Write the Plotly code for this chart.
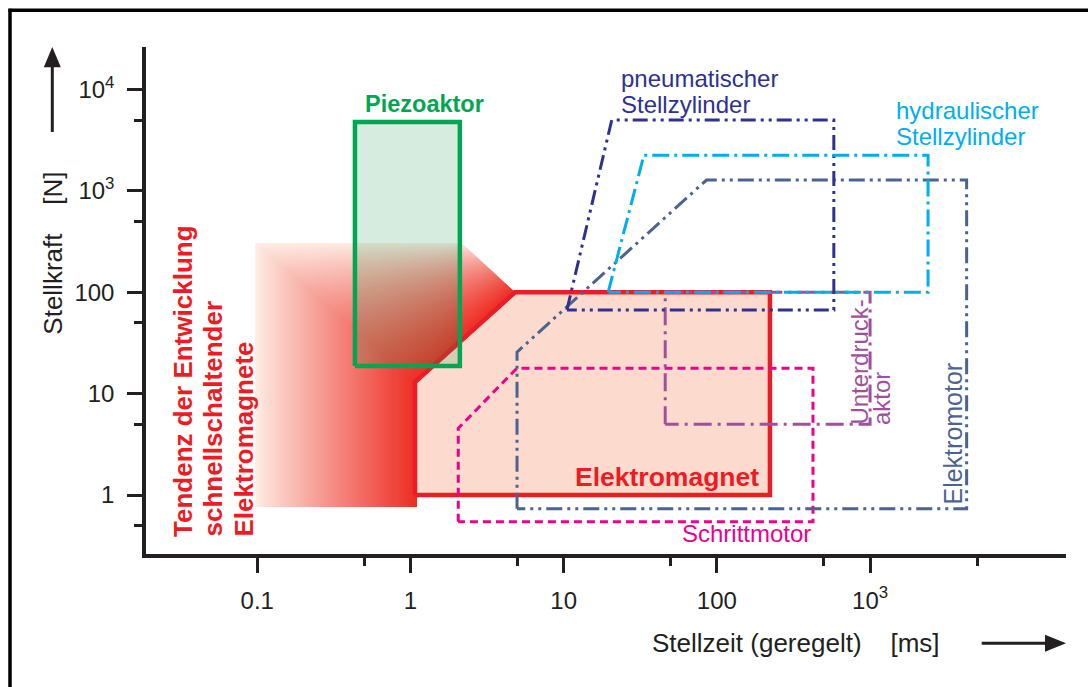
import numpy as np
import plotly.graph_objects as go

# ---- actuator regions: Stellzeit [ms] vs. Stellkraft [N] ----
elektromagnet_t = [1.07, 1.07, 4.8, 222, 222]
elektromagnet_f = [1, 13, 100, 100, 1]

piezo_t = [0.434, 0.434, 2.1, 2.1]
piezo_f = [18.7, 4800, 4800, 18.7]

pneumatik_t = [10.5, 20.6, 580, 580]
pneumatik_f = [67, 5000, 5000, 67]

hydraulik_t = [19.5, 33.4, 2390, 2390]
hydraulik_f = [100, 2250, 2250, 100]

elektromotor_t = [4.96, 4.96, 85.5, 4270, 4270]
elektromotor_f = [0.73, 25.7, 1280, 1280, 0.73]

unterdruck_t = [46, 46, 1000, 1000]
unterdruck_f = [5, 100, 100, 5]

schrittmotor_t = [2.05, 2.05, 4.94, 424, 424]
schrittmotor_f = [0.545, 4.55, 17.8, 17.8, 0.545]

# development trend of fast-switching solenoids: blend from the outer path to the solenoid edge
trend_outer_t = [0.1, 0.1, 2.17]
trend_outer_f = [0.76, 292, 292]
trend_inner_t = [1.07, 1.07, 4.8]
trend_inner_f = [0.76, 13, 100]

# ---- axis ticks ----
x_tickvals = [0.1, 1, 10, 100, 1000]
x_ticktext = ["0.1", "1", "10", "100", "10<sup>3</sup>"]
x_minor = [0.5, 5, 50, 500, 5000]
y_tickvals = [1, 10, 100, 1000, 10000]
y_ticktext = ["1", "10", "100", "10<sup>3</sup>", "10<sup>4</sup>"]
y_minor = [0.5, 5, 50, 500, 5000]

FONT = "Liberation Sans, Arial, Helvetica, sans-serif"
INK = "#231F20"
RED = "#ED1C24"
GREEN = "#00A651"
NAVY = "#2E3192"
CYAN = "#00AEEF"
SLATE = "#4A6391"
PURPLE = "#A0509A"
MAGENTA = "#EC008C"

W_FIG, H_FIG = 1088, 687
L, R, T, B = 146, 1066, 46.7, 554


def px(x):
    return (x - L) / (R - L)


def py(y):
    return (B - y) / (B - T)


def closed(a):
    return list(a) + [a[0]]


fig = go.Figure()

# solenoid area fill
fig.add_trace(go.Scatter(x=closed(elektromagnet_t), y=closed(elektromagnet_f), mode="lines",
                         fill="toself", fillcolor="#FCDBCE", line=dict(width=0),
                         hoverinfo="skip", showlegend=False))

# trend fan
n_steps = 70
lo_t, lo_f = np.log10(trend_outer_t), np.log10(trend_outer_f)
li_t, li_f = np.log10(trend_inner_t), np.log10(trend_inner_f)
c0 = np.array([253, 236, 228])
c1 = np.array([237, 48, 38])
for s in np.linspace(0, 1, n_steps):
    xs = 10 ** ((1 - s) * lo_t + s * li_t)
    ys = 10 ** ((1 - s) * lo_f + s * li_f)
    w = s ** 0.95
    c = ((1 - w) * c0 + w * c1).round().astype(int)
    fig.add_trace(go.Scatter(x=xs, y=ys, mode="lines",
                             line=dict(color=f"rgb({c[0]},{c[1]},{c[2]})", width=4),
                             hoverinfo="skip", showlegend=False))

# solenoid outline
fig.add_trace(go.Scatter(x=closed(elektromagnet_t), y=closed(elektromagnet_f), mode="lines",
                         line=dict(color=RED, width=4.5), hoverinfo="skip", showlegend=False))

# piezo actuator
fig.add_trace(go.Scatter(x=closed(piezo_t), y=closed(piezo_f), mode="lines",
                         fill="toself", fillcolor="rgba(20,150,80,0.18)",
                         line=dict(color=GREEN, width=4.5), hoverinfo="skip", showlegend=False))

# dashed outlines
outlines = [
    (schrittmotor_t, schrittmotor_f, MAGENTA, "8px,5px"),
    (elektromotor_t, elektromotor_f, SLATE, "16px,5px,3px,5px,3px,5px"),
    (unterdruck_t, unterdruck_f, PURPLE, "18px,6px,3px,6px"),
    (pneumatik_t, pneumatik_f, NAVY, "15px,5px,3px,5px,3px,5px"),
    (hydraulik_t, hydraulik_f, CYAN, "17px,5px,3px,5px"),
]
for xs, ys, col, dash in outlines:
    fig.add_trace(go.Scatter(x=closed(xs), y=closed(ys), mode="lines",
                             line=dict(color=col, width=3, dash=dash),
                             hoverinfo="skip", showlegend=False))


def label(text, x, y, color, size=24, angle=0, xanchor="center", yanchor="middle"):
    fig.add_annotation(text=text, x=px(x), y=py(y), xref="paper", yref="paper",
                       showarrow=False, textangle=angle, xanchor=xanchor, yanchor=yanchor,
                       font=dict(family=FONT, size=size, color=color))


label("<b>Piezoaktor</b>", 424, 104, GREEN, size=23.5)
label("pneumatischer", 619, 78.5, NAVY, xanchor="left")
label("Stellzylinder", 619, 104.5, NAVY, xanchor="left")
label("hydraulischer", 894, 110, CYAN, xanchor="left")
label("Stellzylinder", 894, 136, CYAN, xanchor="left")
label("<b>Elektromagnet</b>", 573, 477, RED, size=26.5, xanchor="left")
label("Schrittmotor", 680, 533, MAGENTA, xanchor="left")
label("Elektromotor", 953.5, 507, SLATE, size=25, angle=-90, yanchor="bottom")
label("Unterdruck-", 860, 427, PURPLE, angle=-90, yanchor="bottom")
label("aktor", 881.5, 427, PURPLE, angle=-90, yanchor="bottom")
label("<b>Tendenz der Entwicklung</b>", 183, 539, RED, size=26, angle=-90, yanchor="bottom")
label("<b>schnellschaltender</b>", 213.5, 539, RED, size=26, angle=-90, yanchor="bottom")
label("<b>Elektromagnete</b>", 244, 539, RED, size=26, angle=-90, yanchor="bottom")

# axis titles
nb = "\u00a0"
label("Stellkraft" + nb * 4 + "[N]", 53, 253.5, INK, size=26, angle=-90)
label("Stellzeit (geregelt)" + nb * 4 + "[ms]", 650, 643, INK, size=26, xanchor="left")

shapes = []
# axis arrows
shapes.append(dict(type="line", xref="paper", yref="paper",
                   x0=px(52.3), x1=px(52.3), y0=py(131.7), y1=py(62),
                   line=dict(color=INK, width=3)))
shapes.append(dict(type="path", xref="paper", yref="paper",
                   path=f"M {px(52.3)} {py(46.7)} L {px(43.8)} {py(67)} L {px(60.8)} {py(67)} Z",
                   fillcolor=INK, line=dict(width=0)))
shapes.append(dict(type="line", xref="paper", yref="paper",
                   x0=px(981.7), x1=px(1050), y0=py(643.3), y1=py(643.3),
                   line=dict(color=INK, width=3)))
shapes.append(dict(type="path", xref="paper", yref="paper",
                   path=f"M {px(1066)} {py(643.3)} L {px(1045)} {py(634.8)} L {px(1045)} {py(651.8)} Z",
                   fillcolor=INK, line=dict(width=0)))
# frame
shapes.append(dict(type="line", xref="paper", yref="paper",
                   x0=px(10), x1=px(10), y0=py(8.5), y1=py(690),
                   line=dict(color="black", width=3.5)))
shapes.append(dict(type="line", xref="paper", yref="paper",
                   x0=px(8.5), x1=px(1090), y0=py(10), y1=py(10),
                   line=dict(color="black", width=3.5)))

axis_common = dict(type="log", showline=True, linewidth=3.5, linecolor=INK,
                   ticks="outside", ticklen=15, tickwidth=3, tickcolor=INK,
                   showgrid=False, zeroline=False,
                   tickfont=dict(family=FONT, size=24, color=INK))

fig.update_layout(
    width=W_FIG, height=H_FIG, autosize=False,
    margin=dict(l=L, r=W_FIG - R, t=T, b=H_FIG - B),
    paper_bgcolor="white", plot_bgcolor="white",
    showlegend=False, shapes=shapes,
    xaxis=dict(**axis_common, range=[-1.7265, 4.279], tickvals=x_tickvals, ticktext=x_ticktext,
               ticklabelstandoff=7,
               minor=dict(tickvals=x_minor, ticks="outside", ticklen=8, tickwidth=3, tickcolor=INK)),
    yaxis=dict(**axis_common, range=[-0.582, 4.42], tickvals=y_tickvals, ticktext=y_ticktext,
               ticklabelstandoff=8,
               minor=dict(tickvals=y_minor, ticks="outside", ticklen=8, tickwidth=3, tickcolor=INK)),
)

fig.write_html("out.html")
